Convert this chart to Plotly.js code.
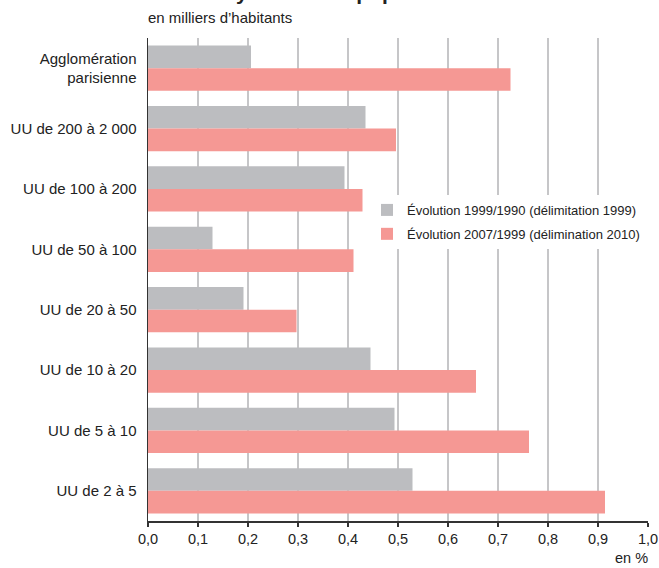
<!DOCTYPE html>
<html>
<head>
<meta charset="utf-8">
<script src="https://cdn.plot.ly/plotly-3.0.1.min.js"></script>
<style>html,body{margin:0;padding:0;background:#fff;}#chart{width:659px;height:568px;}</style>
</head>
<body>
<div id="chart"></div>
<script>
const categories = ["Agglomération<br>parisienne", "UU de 200 à 2 000", "UU de 100 à 200", "UU de 50 à 100", "UU de 20 à 50", "UU de 10 à 20", "UU de 5 à 10", "UU de 2 à 5"];
const evol1999_1990 = [0.206, 0.435, 0.393, 0.129, 0.191, 0.445, 0.493, 0.529];
const evol2007_1999 = [0.725, 0.496, 0.429, 0.411, 0.297, 0.656, 0.762, 0.914];
const seriesNames = ["Évolution 1999/1990 (délimitation 1999)", "Évolution 2007/1999 (délimination 2010)"];
const xTicks = [0, 0.1, 0.2, 0.3, 0.4, 0.5, 0.6, 0.7, 0.8, 0.9, 1.0];

const font = "Liberation Sans, Arial, Helvetica, sans-serif";

const traces = [
  {type: "bar", orientation: "h", name: seriesNames[0], y: categories, x: evol1999_1990,
   marker: {color: "#bcbdc0"}, legendgroup: "a", hoverinfo: "x"},
  {type: "bar", orientation: "h", name: seriesNames[1], y: categories, x: evol2007_1999,
   marker: {color: "#f59894"}, legendgroup: "b", hoverinfo: "x"}
];

const layout = {
  width: 659, height: 568,
  margin: {l: 148, r: 11, t: 38, b: 47},
  paper_bgcolor: "#fff", plot_bgcolor: "#fff",
  separators: ",.",
  barmode: "group", bargap: 0.25, bargroupgap: 0,
  font: {family: font, size: 15, color: "#222"},
  showlegend: true,
  legend: {x: 0.438, xanchor: "left", y: 0.675, yanchor: "top",
           bgcolor: "#fff", font: {family: font, size: 13, color: "#222"},
           tracegroupgap: 4, traceorder: "grouped", itemwidth: 30, borderwidth: 0},
  xaxis: {range: [0, 1.0], tickvals: xTicks, tickformat: ".1f",
          showgrid: true, gridcolor: "#c6c6c8", gridwidth: 1.5,
          showline: true, linecolor: "#333", linewidth: 1.5,
          ticks: "outside", ticklen: 4, tickcolor: "#333", tickwidth: 1.2,
          zeroline: false, tickfont: {size: 14.5, color: "#222"}, fixedrange: true},
  yaxis: {type: "category", autorange: "reversed",
          showline: true, linecolor: "#333", linewidth: 1.5,
          showgrid: false, zeroline: false, ticks: "", ticklabelstandoff: 7,
          tickfont: {size: 15, color: "#222"}, fixedrange: true},
  annotations: [
    {xref: "paper", yref: "paper", x: 0, xanchor: "left", xshift: -138, y: 1.066, yanchor: "bottom",
     text: "<b>Évolution annuelle moyenne de la population</b>", showarrow: false,
     font: {family: font, size: 21, color: "#222"}},
    {xref: "paper", yref: "paper", x: 0, xanchor: "left", xshift: -2, y: 1.0215, yanchor: "bottom",
     text: "en milliers d’habitants", showarrow: false,
     font: {family: font, size: 15, color: "#222"}},
    {xref: "paper", yref: "paper", x: 0.966, xanchor: "center", y: -0.055, yanchor: "top",
     text: "en %", showarrow: false,
     font: {family: font, size: 14.5, color: "#222"}}
  ]
};

Plotly.newPlot("chart", traces, layout, {displayModeBar: false, staticPlot: true});
</script>
</body>
</html>
